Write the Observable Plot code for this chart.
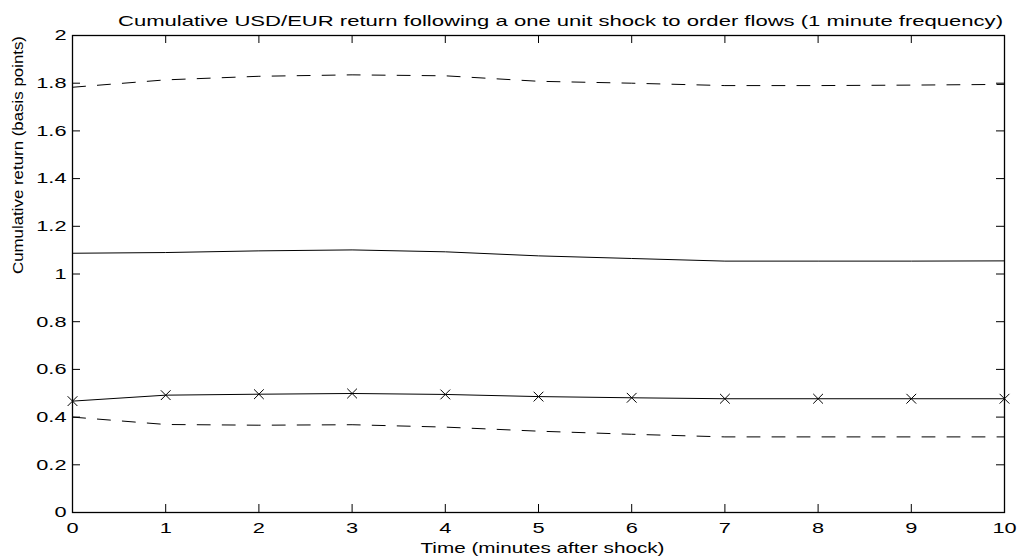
<!DOCTYPE html>
<html>
<head>
<meta charset="utf-8">
<script src="https://cdn.jsdelivr.net/npm/d3@7"></script>
<script src="https://cdn.jsdelivr.net/npm/@observablehq/plot@0.6"></script>
<style>
  html, body { margin: 0; padding: 0; background: #fff; }
  #chart svg { display: block; font-family: "Liberation Sans", Arial, sans-serif; }
</style>
</head>
<body>
<div id="chart"></div>
<script>
const time = [0, 1, 2, 3, 4, 5, 6, 7, 8, 9, 10];
const upperBand = [1.783, 1.814, 1.829, 1.835, 1.831, 1.808, 1.800, 1.790, 1.790, 1.792, 1.795];
const pointEstimate = [1.087, 1.090, 1.097, 1.101, 1.093, 1.076, 1.065, 1.054, 1.054, 1.054, 1.055];
const crossedSeries = [0.467, 0.492, 0.496, 0.499, 0.495, 0.486, 0.481, 0.477, 0.477, 0.477, 0.477];
const lowerBand = [0.400, 0.369, 0.366, 0.368, 0.358, 0.341, 0.328, 0.317, 0.317, 0.317, 0.317];
const xTicks = [0, 1, 2, 3, 4, 5, 6, 7, 8, 9, 10];
const yTicks = [0, 0.2, 0.4, 0.6, 0.8, 1, 1.2, 1.4, 1.6, 1.8, 2];
const titleText = "Cumulative USD/EUR return following a one unit shock to order flows (1 minute frequency)";
const xLabel = "Time (minutes after shock)";
const yLabel = "Cumulative return (basis points)";

const W = 1018, H = 559;
const mL = 72, mR = 14, mT = 35, mB = 47;
const plotW = W - mL - mR, plotH = H - mT - mB;
const tk = 8;

const rows = (vals) => time.map((t, i) => ({t, v: vals[i]}));

const chart = Plot.plot({
  width: W, height: H,
  marginLeft: mL, marginRight: mR, marginTop: mT, marginBottom: mB,
  style: {fontFamily: '"Liberation Sans", Arial, sans-serif', background: "#fff", color: "#000"},
  x: {domain: [0, 10], label: null},
  y: {domain: [0, 2], label: null},
  marks: [
    Plot.axisX({ticks: xTicks, tickSize: 0, tickPadding: 10, fontSize: 15, label: null, tickFormat: d => String(d), className: "tk"}),
    Plot.axisY({ticks: yTicks, tickSize: 0, tickPadding: 6, fontSize: 15, label: null, tickFormat: d => String(d), className: "tk"}),
    Plot.tickX(xTicks, {x: d => d, insetTop: plotH - tk, stroke: "#000", strokeWidth: 1}),
    Plot.tickX(xTicks, {x: d => d, insetBottom: plotH - tk, stroke: "#000", strokeWidth: 1}),
    Plot.tickY(yTicks, {y: d => d, insetRight: plotW - tk, stroke: "#000", strokeWidth: 1}),
    Plot.tickY(yTicks, {y: d => d, insetLeft: plotW - tk, stroke: "#000", strokeWidth: 1}),
    Plot.line(rows(upperBand), {x: "t", y: "v", stroke: "#000", strokeWidth: 1, strokeDasharray: "13,12"}),
    Plot.line(rows(lowerBand), {x: "t", y: "v", stroke: "#000", strokeWidth: 1, strokeDasharray: "13,12"}),
    Plot.line(rows(pointEstimate), {x: "t", y: "v", stroke: "#000", strokeWidth: 1}),
    Plot.line(rows(crossedSeries), {x: "t", y: "v", stroke: "#000", strokeWidth: 1}),
    Plot.dot(rows(crossedSeries), {x: "t", y: "v", symbol: "times", r: 4.5, stroke: "#000", strokeWidth: 1}),
    Plot.frame({stroke: "#000", strokeWidth: 1.3}),
    Plot.text([titleText], {frameAnchor: "top", dx: 22, dy: -20, fontSize: 15, fill: "#000", text: d => d, className: "ttl"}),
    Plot.text([xLabel], {frameAnchor: "bottom", dx: 4, dy: 40, fontSize: 15, fill: "#000", text: d => d, className: "xl"}),
    Plot.text([yLabel], {frameAnchor: "left", dx: -54, rotate: -90, fontSize: 15, fill: "#000", text: d => d, className: "yl"})
  ]
});
document.getElementById("chart").appendChild(chart);

// The reference's text is horizontally wide; stretch glyphs to match.
function stretch(sel, fn) {
  chart.querySelectorAll(sel).forEach(t => {
    const w = t.getComputedTextLength();
    t.setAttribute("textLength", fn(w));
    t.setAttribute("lengthAdjust", "spacingAndGlyphs");
  });
}
stretch(".tk text", w => w * 1.45);
stretch(".ttl text", w => 885);
stretch(".xl text", w => 244);
stretch(".yl text", w => 238);
</script>
</body>
</html>
